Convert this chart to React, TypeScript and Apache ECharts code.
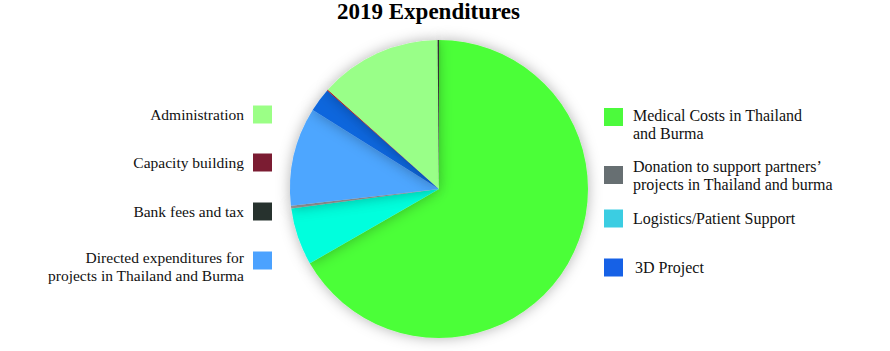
import React, { useEffect, useRef } from "react";
import * as echarts from "echarts";

const categories = [
  "Medical Costs in Thailand and Burma",
  "Logistics/Patient Support",
  "Donation to support partners' projects in Thailand and burma",
  "Directed expenditures for projects in Thailand and Burma",
  "3D Project",
  "Capacity building",
  "Administration",
  "Bank fees and tax",
];
const values = [66.7, 6.2, 0.3, 10.7, 2.6, 0.1, 13.25, 0.15];
const sliceColors = ["#4cff38", "#00ffdd", "#9a9a9a", "#4da6ff", "#0a66dd", "#cc0000", "#99ff88", "#333333"];
const legendColors: Record<string, string> = {
  "Medical Costs in Thailand and Burma": "#4cfa3c",
  "Donation to support partners' projects in Thailand and burma": "#676f72",
  "Logistics/Patient Support": "#3bcde2",
  "3D Project": "#1661e6",
  "Administration": "#9bff86",
  "Capacity building": "#7b1c32",
  "Bank fees and tax": "#27322e",
  "Directed expenditures for projects in Thailand and Burma": "#4ba2ff",
};
const legendLines: Record<string, string[]> = {
  "Medical Costs in Thailand and Burma": ["Medical Costs in Thailand", "and Burma"],
  "Donation to support partners' projects in Thailand and burma": ["Donation to support partners’", "projects in Thailand and burma"],
  "Logistics/Patient Support": ["Logistics/Patient Support"],
  "3D Project": ["3D Project"],
  "Administration": ["Administration"],
  "Capacity building": ["Capacity building"],
  "Bank fees and tax": ["Bank fees and tax"],
  "Directed expenditures for projects in Thailand and Burma": ["Directed expenditures for", "projects in Thailand and Burma"],
};
const title = "2019 Expenditures";

const FONT = "Liberation Serif";

function makeLegend(name: string, side: "left" | "right", top: number, gap: number, spacer: number) {
  const fs = side === "right" ? 16 : 15.5;
  const lines = legendLines[name].map((l) => `{t|${l}}`);
  const text = (spacer > 0 ? ["{s| }"] : []).concat(lines).join("\n");
  const base: any = {
    data: [
      {
        name,
        itemStyle: { color: legendColors[name], shadowBlur: 0, shadowColor: "transparent", borderWidth: 0 },
      },
    ],
    orient: "vertical",
    top,
    padding: 0,
    icon: "rect",
    itemWidth: 19,
    itemHeight: 18,
    selectedMode: false,
    formatter: () => text,
    textStyle: {
      fontFamily: FONT,
      fontSize: fs,
      lineHeight: 18,
      color: "#111",
      padding: side === "right" ? [0, 0, 0, gap] : [0, gap, 0, 0],
      rich: {
        t: { fontFamily: FONT, fontSize: fs, lineHeight: 18, color: "#111" },
        s: { fontFamily: FONT, fontSize: 8, lineHeight: spacer || 1, color: "#111" },
      },
    },
  };
  if (side === "right") {
    base.left = 604;
    base.align = "left";
  } else {
    base.right = 890 - 272;
    base.align = "right";
  }
  return base;
}

export default function App() {
  const ref = useRef<HTMLDivElement>(null);
  useEffect(() => {
    document.body.style.margin = "0";
    if (!ref.current) return;
    const chart = echarts.init(ref.current, undefined, { renderer: "svg" });
    const data = categories.map((c, i) => ({
      name: c,
      value: values[i],
      itemStyle: { color: sliceColors[i] },
    }));
    chart.setOption({
      animation: false,
      backgroundColor: "#ffffff",
      textStyle: { fontFamily: FONT },
      title: {
        text: title,
        left: 337,
        top: 0,
        padding: 0,
        textStyle: { fontFamily: FONT, fontSize: 23, fontWeight: "bold", color: "#000" },
      },
      legend: [
        makeLegend(categories[0], "right", 92, 5, 14),
        makeLegend(categories[2], "right", 157, 5, 0),
        makeLegend(categories[1], "right", 209.5, 5, 0),
        makeLegend(categories[4], "right", 258.5, 7, 0),
        makeLegend(categories[6], "left", 105.5, 4, 0),
        makeLegend(categories[5], "left", 153.5, 4, 0),
        makeLegend(categories[7], "left", 202.5, 4, 0),
        makeLegend(categories[3], "left", 237, 4, 11),
      ],
      series: [
        {
          type: "pie",
          center: [439, 189],
          radius: 149,
          startAngle: 90,
          clockwise: true,
          label: { show: false },
          labelLine: { show: false },
          emphasis: { disabled: true },
          itemStyle: {
            borderWidth: 0,
            shadowBlur: 14,
            shadowColor: "rgba(0,0,0,0.3)",
          },
          data,
        },
      ],
    });
    return () => chart.dispose();
  }, []);
  return <div ref={ref} style={{ width: 890, height: 351 }} />;
}
